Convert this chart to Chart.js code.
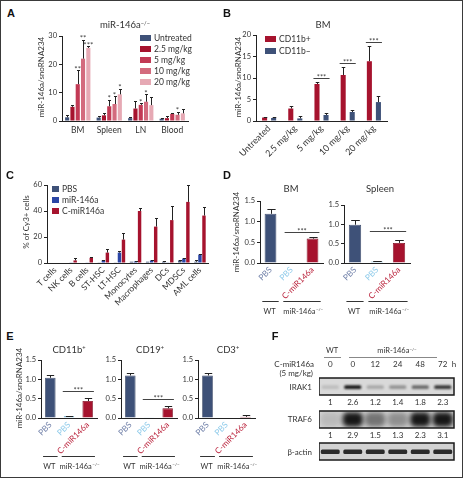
<!DOCTYPE html>
<html>
<head>
<meta charset="utf-8">
<script src="https://cdn.jsdelivr.net/npm/chart.js@4.4.1/dist/chart.umd.min.js"></script>
<style>
  html, body { margin: 0; padding: 0; background: #fff; }
  #fig { position: relative; width: 463px; height: 478px; overflow: hidden; font-family: Lato, 'Open Sans', sans-serif; color: #333; }
  #fig canvas { position: absolute; }
  .frame { position: absolute; left: 0; top: 0; width: 463px; height: 478px; box-sizing: border-box; border: 1px solid #3a3a3a; }
  .t { position: absolute; white-space: nowrap; line-height: 1; transform: translate(-50%, -50%); }
  .t.r { transform: translate(-100%, -50%); }
  .t.l { transform: translate(0, -50%); }
  .t.rot { transform: translate(-50%, -50%) rotate(-90deg); }
  .t.panel { font-family: 'Liberation Sans', Arial, sans-serif; font-weight: bold; color: #111; }
  .t sup { font-size: 0.6em; vertical-align: 0; position: relative; top: -0.55em; }
  .key { position: absolute; }
  .hl { position: absolute; height: 0; border-top: 1px solid #888; }
</style>
</head>
<body>
<div id="fig"><div class="frame"></div></div>
<script>
// ---- data ----

// A: miR-146a-/- tissues after C-miR146a
const tissues = ['BM', 'Spleen', 'LN', 'Blood'];
const doses = ['Untreated', '2.5 mg/kg', '5 mg/kg', '10 mg/kg', '20 mg/kg'];
const tissueUntreated = [1.3, 1.2, 1.0, 0.8];
const tissue2_5 = [5.0, 2.0, 4.4, 1.0];
const tissue5 = [13.0, 5.2, 5.7, 2.5];
const tissue10 = [22.0, 6.0, 6.8, 2.2];
const tissue20 = [25.8, 9.4, 5.6, 2.7];
const errUntreated = [0.8, 0.7, 0.3, 0.3];
const err2_5 = [0.5, 1.0, 2.6, 0.8];
const err5 = [5.0, 2.3, 0.6, 0.5];
const err10 = [6.6, 2.8, 2.6, 1.0];
const err20 = [0.6, 2.0, 2.9, 1.6];
const stars5 = ['**', '*', '*', ''];
const stars10 = ['**', '*', '*', '*'];
const stars20 = ['***', '*', '', ''];

// B: BM, CD11b+ vs CD11b-
const bmDoses = ['Untreated', '2.5 mg/kg', '5 mg/kg', '10 mg/kg', '20 mg/kg'];
const cd11bPos = [0.8, 2.9, 8.6, 10.7, 13.9];
const cd11bPosErr = [0.2, 0.7, 0.4, 1.8, 3.6];
const cd11bNeg = [0.7, 0.6, 1.4, 2.1, 4.4];
const cd11bNegErr = [0.3, 0.5, 0.4, 0.5, 1.3];
const bmSigLevel = [null, null, 10, 13.4, 18.3];

// C: % of Cy3+ cells
const cellTypes = ['T cells', 'NK cells', 'B cells', 'ST-HSC', 'LT-HSC', 'Monocytes', 'Macrophages', 'DCs', 'MDSCs', 'AML cells'];
const cy3PBS = [0, 0, 0, 0.5, 0.5, 1.0, 1.0, 1.0, 2.0, 1.0];
const cy3PBSErr = [0, 0, 0, 0, 0, 0, 0, 0.6, 0.6, 1.2];
const cy3MiR = [0, 0.5, 0.3, 2.0, 8.0, 1.2, 2.0, 0.5, 3.5, 6.5];
const cy3MiRErr = [0, 0, 0, 0.6, 1.0, 0.3, 0.3, 0, 0.5, 0.6];
const cy3CMiR = [0, 2.0, 4.0, 8.0, 18.0, 40.0, 28.0, 33.0, 47.0, 36.5];
const cy3CMiRErr = [0, 2.0, 1.0, 2.5, 5.0, 2.0, 6.5, 10.5, 13.0, 6.5];
const cy3Series = ['PBS', 'miR-146a', 'C-miR146a'];

// D, E: WT PBS / KO PBS / KO C-miR146a
const treatLabels = ['PBS', 'PBS', 'C-miR146a'];
const dBM = [1.19, 0.01, 0.59];
const dBMErr = [0.11, 0, 0.03];
const dSpleen = [0.99, 0.04, 0.52];
const dSpleenErr = [0.11, 0.02, 0.08];
const eCD11b = [1.04, 0.05, 0.44];
const eCD11bErr = [0.08, 0.01, 0.07];
const eCD19 = [1.1, 0.02, 0.25];
const eCD19Err = [0.06, 0, 0.07];
const eCD3 = [1.1, 0.01, 0.03];
const eCD3Err = [0.06, 0, 0.04];

// F: western blot quantification
const lanes = ['0', '0', '12', '24', '48', '72'];
const irak1Level = [1, 2.6, 1.2, 1.4, 1.8, 2.3];
const traf6Level = [1, 2.9, 1.5, 1.3, 2.3, 3.1];
const actinLevel = [1, 1, 1, 1, 1, 1];

// ---- styles ----
const INK = '#333';
const AXIS = '#222';
const SLATE = '#3e5178';
const RED = '#a6132e';
const BLUE = '#2b46a6';
const SKY = '#8fcbea';
const doseColors = [SLATE, RED, '#c23a55', '#d36b7e', '#e6a9b4'];
const treatColors = [SLATE, SKY, RED];
const treatBorders = ['#2c3b5c', '#7ab6d6', '#7e0c21'];
const treatText = ['#7282aa', SKY, '#b81c36'];
const FONT = 'Lato, "Open Sans", sans-serif';

Chart.defaults.font.family = FONT;
Chart.defaults.color = INK;
Chart.defaults.animation = false;
Chart.defaults.responsive = false;
Chart.defaults.devicePixelRatio = 1;
Chart.defaults.events = [];
Chart.defaults.plugins.legend.display = false;
Chart.defaults.plugins.tooltip.enabled = false;

const fig = document.getElementById('fig');

function text(html, x, y, size, cls = '', color) {
  const d = document.createElement('div');
  d.className = 't ' + cls;
  d.style.left = x + 'px';
  d.style.top = y + 'px';
  d.style.fontSize = size + 'px';
  if (color) d.style.color = color;
  d.innerHTML = html;
  fig.appendChild(d);
}

function hline(x0, x1, y) {
  const d = document.createElement('div');
  d.className = 'hl';
  d.style.left = x0 + 'px';
  d.style.top = y + 'px';
  d.style.width = (x1 - x0) + 'px';
  fig.appendChild(d);
}

function legend(names, colors, x, y0, step, bw, bh, size) {
  names.forEach((n, i) => {
    const k = document.createElement('div');
    k.className = 'key';
    k.style.cssText = `left:${x}px;top:${y0 + i * step - bh / 2}px;width:${bw}px;height:${bh}px;background:${colors[i]}`;
    fig.appendChild(k);
    text(n, x + bw + 3, y0 + i * step, size, 'l');
  });
}

// canvas placed so that the chart area lands on `area`
function makeCanvas(area, pad) {
  const c = document.createElement('canvas');
  const w = area.r - area.l + pad.l + pad.r;
  const h = area.b - area.t + pad.t + pad.b;
  c.width = w;
  c.height = h;
  c.style.left = (area.l - pad.l) + 'px';
  c.style.top = (area.t - pad.t) + 'px';
  c.style.width = w + 'px';
  c.style.height = h + 'px';
  fig.appendChild(c);
  return c;
}

// upward error bars and stars above them
const errorBars = {
  id: 'errorBars',
  afterDatasetsDraw(chart) {
    const { ctx } = chart;
    const y = chart.scales.y;
    ctx.save();
    ctx.strokeStyle = AXIS;
    ctx.lineWidth = 1;
    chart.data.datasets.forEach((ds, i) => {
      chart.getDatasetMeta(i).data.forEach((bar, j) => {
        const v = ds.data[j];
        const e = ds.errors ? ds.errors[j] : 0;
        const yTop = y.getPixelForValue(v + e);
        if (e) {
          const x = Math.round(bar.x) + 0.5;
          const cap = Math.max(bar.width * 0.35, 1.5);
          ctx.beginPath();
          ctx.moveTo(x, y.getPixelForValue(v));
          ctx.lineTo(x, Math.round(yTop) + 0.5);
          ctx.moveTo(x - cap, Math.round(yTop) + 0.5);
          ctx.lineTo(x + cap, Math.round(yTop) + 0.5);
          ctx.stroke();
        }
        const s = ds.stars && ds.stars[j];
        if (s) {
          ctx.fillStyle = '#444';
          ctx.font = '8px ' + FONT;
          ctx.textAlign = 'center';
          ctx.textBaseline = 'alphabetic';
          ctx.fillText(s, bar.x, yTop + 1.5);
        }
      });
    });
    ctx.restore();
  }
};

// significance bracket between two bars
function sigLines(items) {
  return {
    id: 'sigLines',
    afterDatasetsDraw(chart) {
      const { ctx } = chart;
      const y = chart.scales.y;
      ctx.save();
      ctx.strokeStyle = '#444';
      ctx.fillStyle = '#444';
      ctx.lineWidth = 1;
      ctx.font = '7.5px ' + FONT;
      ctx.textAlign = 'center';
      ctx.textBaseline = 'alphabetic';
      items.forEach(it => {
        const a = chart.getDatasetMeta(it.a[0]).data[it.a[1]];
        const b = chart.getDatasetMeta(it.b[0]).data[it.b[1]];
        const x0 = a.x - a.width / 2 - 1;
        const x1 = b.x + b.width / 2 + 1;
        const yy = Math.round(y.getPixelForValue(it.y)) + 0.5;
        ctx.beginPath();
        ctx.moveTo(x0, yy);
        ctx.lineTo(x1, yy);
        ctx.stroke();
        ctx.fillText('***', (x0 + x1) / 2, yy + 1);
      });
      ctx.restore();
    }
  };
}

function drawSup(ctx, base, sup, cx, cy, size) {
  ctx.font = size + 'px ' + FONT;
  const wb = ctx.measureText(base).width;
  ctx.font = (size * 0.6) + 'px ' + FONT;
  const ws = sup ? ctx.measureText(sup).width : 0;
  const x = cx - (wb + ws) / 2;
  ctx.textAlign = 'left';
  ctx.textBaseline = 'middle';
  ctx.font = size + 'px ' + FONT;
  ctx.fillText(base, x, cy);
  if (sup) {
    ctx.font = (size * 0.6) + 'px ' + FONT;
    ctx.fillText(sup, x + wb + 0.5, cy - size * 0.3);
  }
}

// WT / miR-146a-/- bracket under the x labels
const genotypeGroups = [
  { from: 0, to: 0, text: 'WT', sup: '' },
  { from: 1, to: 2, text: 'miR-146a', sup: '−/−' }
];
const groupLines = {
  id: 'groupLines',
  afterDraw(chart) {
    const { ctx, chartArea } = chart;
    const x = chart.scales.x;
    const half = x.width / chart.data.labels.length / 2;
    ctx.save();
    ctx.strokeStyle = INK;
    ctx.fillStyle = INK;
    ctx.lineWidth = 1;
    genotypeGroups.forEach(g => {
      const x0 = x.getPixelForTick(g.from) - half * 0.78;
      const x1 = x.getPixelForTick(g.to) + half * 0.78;
      const yl = Math.round(chartArea.bottom + 38) + 0.5;
      ctx.beginPath();
      ctx.moveTo(x0, yl);
      ctx.lineTo(x1, yl);
      ctx.stroke();
      drawSup(ctx, g.text, g.sup, (x0 + x1) / 2 + (g.sup ? 1 : -1), chartArea.bottom + 48.5, 7.5);
    });
    ctx.restore();
  }
};

function barChart(area, pad, cfg) {
  const canvas = makeCanvas(area, pad);
  return new Chart(canvas, {
    type: 'bar',
    data: { labels: cfg.labels, datasets: cfg.datasets },
    options: {
      layout: { padding: { top: pad.t, right: pad.r, left: 0, bottom: 0 } },
      scales: {
        x: {
          grid: { drawOnChartArea: false, drawTicks: false },
          border: { color: AXIS, width: 1 },
          ticks: {
            padding: cfg.xPad || 4,
            autoSkip: false,
            minRotation: cfg.xRot || 0,
            maxRotation: cfg.xRot || 0,
            font: { size: cfg.xSize || 8.5 },
            color: cfg.xColors ? c => cfg.xColors[c.index] : INK
          },
          afterFit(s) { s.height = pad.b; s.paddingLeft = 0; s.paddingRight = 0; }
        },
        y: {
          min: 0,
          max: cfg.yMax,
          ticks: { stepSize: cfg.yStep, padding: 2, font: { size: 7.5 }, color: INK, callback: cfg.yFmt || (v => v) },
          grid: { drawOnChartArea: false, tickLength: 3, color: AXIS },
          border: { color: AXIS, width: 1 },
          afterFit(s) { s.width = pad.l; s.paddingTop = 0; s.paddingBottom = 0; }
        }
      }
    },
    plugins: [errorBars].concat(cfg.plugins || [])
  });
}

// ---- A ----
const doseMeans = [tissueUntreated, tissue2_5, tissue5, tissue10, tissue20];
const doseErrs = [errUntreated, err2_5, err5, err10, err20];
const doseStars = [null, null, stars5, stars10, stars20];
barChart({ l: 62, r: 188, t: 36, b: 121 }, { l: 30, t: 10, r: 4, b: 16 }, {
  labels: tissues,
  datasets: doses.map((d, i) => ({
    label: d, data: doseMeans[i], errors: doseErrs[i], stars: doseStars[i],
    backgroundColor: doseColors[i], barPercentage: 0.78, categoryPercentage: 0.84
  })),
  yMax: 30, yStep: 10, xSize: 8.5
});
legend(doses, doseColors, 140, 37.7, 11, 11, 6, 8.5);

// ---- B ----
barChart({ l: 256, r: 387, t: 35, b: 121 }, { l: 22, t: 8, r: 4, b: 42 }, {
  labels: bmDoses,
  datasets: [
    { label: 'CD11b+', data: cd11bPos, errors: cd11bPosErr, backgroundColor: RED, barPercentage: 0.56, categoryPercentage: 0.69 },
    { label: 'CD11b–', data: cd11bNeg, errors: cd11bNegErr, backgroundColor: SLATE, barPercentage: 0.56, categoryPercentage: 0.69 }
  ],
  yMax: 20, yStep: 5, xRot: 45, xPad: 2, xSize: 9,
  plugins: [sigLines(bmSigLevel.map((v, j) => v ? { a: [0, j], b: [1, j], y: v } : null).filter(Boolean))]
});
legend(['CD11b+', 'CD11b–'], [RED, SLATE], 265, 39.3, 11.4, 11, 6, 8.5);

// ---- C ----
barChart({ l: 47, r: 208, t: 185, b: 263 }, { l: 22, t: 8, r: 4, b: 45 }, {
  labels: cellTypes,
  datasets: [
    { label: cy3Series[0], data: cy3PBS, errors: cy3PBSErr, backgroundColor: SLATE, barPercentage: 0.85, categoryPercentage: 0.75 },
    { label: cy3Series[1], data: cy3MiR, errors: cy3MiRErr, backgroundColor: BLUE, barPercentage: 0.85, categoryPercentage: 0.75 },
    { label: cy3Series[2], data: cy3CMiR, errors: cy3CMiRErr, backgroundColor: RED, barPercentage: 0.85, categoryPercentage: 0.75 }
  ],
  yMax: 60, yStep: 20, xRot: 45, xPad: 2, xSize: 8.5
});
legend(cy3Series, [SLATE, BLUE, RED], 52, 189, 11, 7, 6, 8.5);

// ---- D, E ----
function treatChart(area, values, errors, sigY) {
  return barChart(area, { l: 22, t: 8, r: 4, b: 56 }, {
    labels: treatLabels,
    datasets: [{
      data: values, errors, backgroundColor: treatColors, borderColor: treatBorders, borderWidth: 0.8,
      barPercentage: 0.56, categoryPercentage: 1
    }],
    yMax: 1.5, yStep: 0.5, yFmt: v => v.toFixed(1), xRot: 45, xPad: 2, xSize: 8.3, xColors: treatText,
    plugins: (sigY ? [sigLines([{ a: [0, 1], b: [0, 2], y: sigY }])] : []).concat([groupLines])
  });
}
treatChart({ l: 260, r: 323, t: 201, b: 263 }, dBM, dBMErr, 0.76);
treatChart({ l: 344, r: 410, t: 205, b: 263 }, dSpleen, dSpleenErr, 0.83);
treatChart({ l: 41, r: 97, t: 360, b: 418 }, eCD11b, eCD11bErr, 0.70);
treatChart({ l: 121, r: 177, t: 360, b: 418 }, eCD19, eCD19Err, 0.49);
treatChart({ l: 198, r: 255, t: 360, b: 418 }, eCD3, eCD3Err, null);

// ---- F: blot strips, band darkness from the quantification ----
function blotFrame(bg, blur) {
  return {
    id: 'blotFrame',
    beforeDatasetsDraw(chart) {
      const { ctx, chartArea: a } = chart;
      ctx.save();
      ctx.fillStyle = bg;
      ctx.fillRect(a.left, a.top, a.width, a.height);
      ctx.filter = `blur(${blur}px)`;
    },
    afterDatasetsDraw(chart) {
      const { ctx, chartArea: a } = chart;
      ctx.restore();
      ctx.save();
      ctx.strokeStyle = '#1a1a1a';
      ctx.lineWidth = 1.5;
      ctx.strokeRect(a.left, a.top, a.width, a.height);
      ctx.restore();
    }
  };
}

function blotChart(area, levels, cfg) {
  const pad = { l: 0, t: cfg.lanes ? 20 : 2, r: 2, b: cfg.quant ? 14 : 2 };
  const canvas = makeCanvas(area, pad);
  const scales = {
    x: {
      position: 'top',
      grid: { display: false, drawTicks: false },
      border: { display: false },
      ticks: { display: !!cfg.lanes, padding: 9, font: { size: 8 }, color: INK },
      afterFit(s) { s.height = pad.t; s.paddingLeft = 0; s.paddingRight = 0; }
    },
    y: { display: false, min: 0, max: 1 }
  };
  if (cfg.quant) {
    scales.q = {
      type: 'category', labels: levels.map(String), position: 'bottom', offset: true,
      grid: { display: false, drawTicks: false },
      border: { display: false },
      ticks: { padding: 3, font: { size: 8 }, color: INK },
      afterFit(s) { s.height = pad.b; s.paddingLeft = 0; s.paddingRight = 0; }
    };
  }
  return new Chart(canvas, {
    type: 'bar',
    data: {
      labels: lanes,
      datasets: [{
        data: levels.map(() => cfg.band),
        backgroundColor: levels.map(v => `rgba(18,18,18,${Math.min(Math.max(cfg.alpha(v), 0.1), 0.98)})`),
        barPercentage: cfg.width, categoryPercentage: 1, borderRadius: cfg.radius, borderSkipped: false
      }]
    },
    options: {
      layout: { padding: { top: 0, right: pad.r, left: 0, bottom: cfg.quant ? 0 : pad.b } },
      scales
    },
    plugins: [blotFrame(cfg.bg, cfg.blur)]
  });
}

blotChart({ l: 319, r: 454, t: 378, b: 395 }, irak1Level, {
  lanes: true, quant: true, band: [0.36, 0.58], width: 0.76, radius: 1.5, blur: 0.8,
  bg: '#d9d9d9', alpha: v => (v - 0.75) / 1.9
});
blotChart({ l: 319, r: 454, t: 411, b: 428 }, traf6Level, {
  quant: true, band: [0.08, 0.92], width: 0.9, radius: 5, blur: 2.4,
  bg: '#d6d6d6', alpha: v => (v - 0.8) / 1.4
});
blotChart({ l: 319, r: 454, t: 443, b: 460 }, actinLevel, {
  band: [0.36, 0.62], width: 0.84, radius: 1.5, blur: 0.7,
  bg: '#d2d2d2', alpha: v => 0.88 * v
});

// ---- text ----
text('A', 11, 13, 11, 'panel');
text('B', 227, 13, 11, 'panel');
text('C', 10, 175, 11, 'panel');
text('D', 227, 175, 11, 'panel');
text('E', 10, 336, 11, 'panel');
text('F', 275, 336, 11, 'panel');

text('miR-146a<sup>−/−</sup>', 125, 25, 9.5);
text('BM', 323, 25, 9.5);
text('BM', 291, 189, 9.5);
text('Spleen', 380, 189, 9.5);
text('CD11b<sup>+</sup>', 69, 350, 9.5);
text('CD19<sup>+</sup>', 150, 350, 9.5);
text('CD3<sup>+</sup>', 228, 350, 9.5);

text('miR-146a/snoRNA234', 41, 77, 8, 'rot');
text('miR-146a/snoRNA234', 237.5, 77, 8, 'rot');
text('% of Cy3+ cells', 26, 222, 8, 'rot');
text('miR-146a/snoRNA234', 236, 232, 8, 'rot');
text('miR-146a/snoRNA234', 19, 388, 8, 'rot');

text('WT', 332, 351, 7.5);
hline(324, 341, 357);
text('miR-146a<sup>−/−</sup>', 397, 351, 7.5);
hline(349, 437, 357);
text('C-miR146a', 314, 364, 8, 'r');
text('(5 mg/kg)', 313, 373, 8, 'r');
text('h', 454, 364, 8);
text('IRAK1', 312, 386.5, 8, 'r');
text('TRAF6', 312, 419, 8, 'r');
text('β-actin', 312, 451.5, 8, 'r');
</script>
</body>
</html>
